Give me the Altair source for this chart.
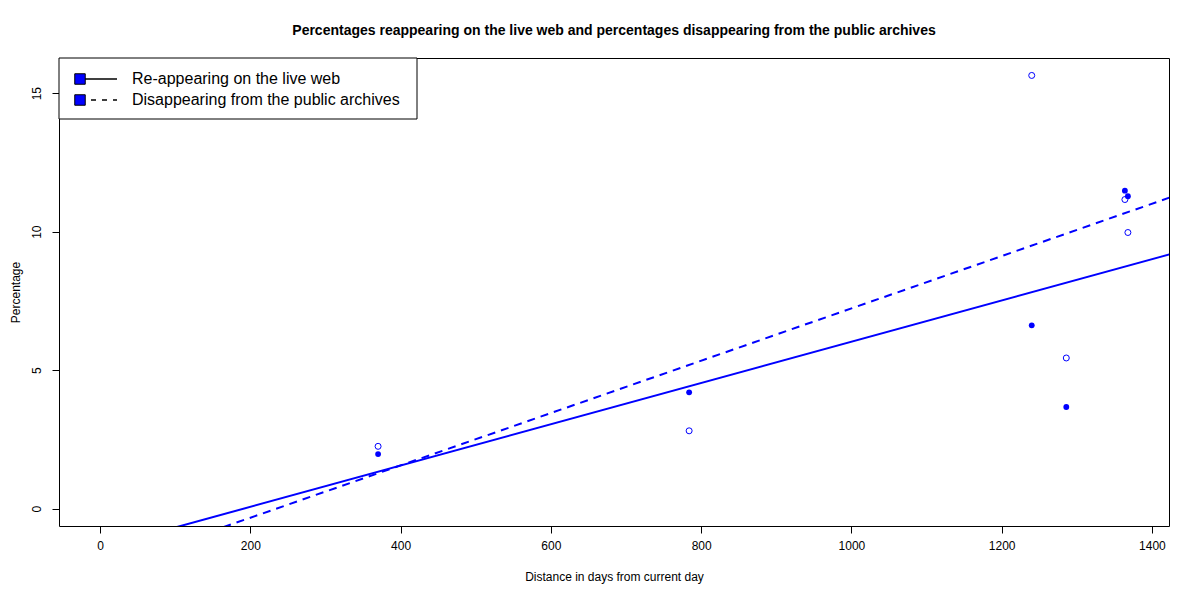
import altair as alt
import pandas as pd

# ---- data ----
days = [370, 784, 1240, 1286, 1364, 1368]
reappearing = [1.97, 4.20, 6.62, 3.67, 11.48, 11.28]
disappearing = [2.25, 2.81, 15.64, 5.44, 11.16, 9.97]
series_names = ["Re-appearing on the live web", "Disappearing from the public archives"]
x_ticks = [0, 200, 400, 600, 800, 1000, 1200, 1400]
y_ticks = [0, 5, 10, 15]

df = pd.DataFrame({
    "day": days * 2,
    "pct": reappearing + disappearing,
    "series": [series_names[0]] * len(days) + [series_names[1]] * len(days),
})
leg = pd.DataFrame({"series": series_names, "row": [0, 1]})

FONT = "Liberation Sans"
BLUE = "#0000FF"
XDOM = [-54.7, 1422.7]
YDOM = [-0.626, 16.27]
W, H = 1110, 468

xs = alt.X("day:Q", scale=alt.Scale(domain=XDOM, nice=False, zero=False),
           axis=alt.Axis(values=x_ticks, title="Distance in days from current day",
                         format="d", labelPadding=7, titlePadding=20, grid=False))
ys = alt.Y("pct:Q", scale=alt.Scale(domain=YDOM, nice=False, zero=False),
           axis=alt.Axis(values=y_ticks, title="Percentage", labelAngle=270,
                         labelAlign="center", labelBaseline="bottom",
                         labelPadding=9, titlePadding=8, grid=False))

base = alt.Chart(df)

filled_pts = base.transform_filter(alt.datum.series == series_names[0]).mark_point(
    filled=True, shape="circle", size=34, color=BLUE, opacity=1
).encode(x=xs, y=ys)

open_pts = base.transform_filter(alt.datum.series == series_names[1]).mark_point(
    filled=False, shape="circle", size=36, color=BLUE, strokeWidth=1, opacity=1
).encode(x=xs, y=ys)

line_re = base.transform_filter(alt.datum.series == series_names[0]).transform_regression(
    "day", "pct", extent=[-100, 1500]
).mark_line(color=BLUE, strokeWidth=2, clip=True).encode(x=xs, y=ys)

line_dis = base.transform_filter(alt.datum.series == series_names[1]).transform_regression(
    "day", "pct", extent=[-100, 1500]
).mark_line(color=BLUE, strokeWidth=2, strokeDash=[8, 6], clip=True).encode(x=xs, y=ys)

# ---- legend (drawn in the top-left corner of the plot area) ----
lbase = alt.Chart(leg)
row0 = lbase.transform_filter(alt.datum.row == 0)
row1 = lbase.transform_filter(alt.datum.row == 1)
Y0, Y1 = 21, 42

leg_box = row0.mark_rect(
    fill="white", stroke="black", strokeWidth=1
).encode(x=alt.value(0), x2=alt.value(358), y=alt.value(0), y2=alt.value(61))

leg_line0 = row0.mark_rule(color="black", strokeWidth=1.3).encode(
    x=alt.value(21), x2=alt.value(58), y=alt.value(Y0))
leg_line1 = row1.mark_rule(color="black", strokeWidth=1.3, strokeDash=[5, 6]).encode(
    x=alt.value(21), x2=alt.value(58), y=alt.value(Y1))
leg_sq0 = row0.mark_square(size=110, fill=BLUE, stroke="black", strokeWidth=1, opacity=1).encode(
    x=alt.value(21), y=alt.value(Y0))
leg_sq1 = row1.mark_square(size=110, fill=BLUE, stroke="black", strokeWidth=1, opacity=1).encode(
    x=alt.value(21), y=alt.value(Y1))
leg_txt0 = row0.mark_text(align="left", baseline="middle", font=FONT, fontSize=16, color="black").encode(
    x=alt.value(73), y=alt.value(Y0), text="series:N")
leg_txt1 = row1.mark_text(align="left", baseline="middle", font=FONT, fontSize=16, color="black").encode(
    x=alt.value(73), y=alt.value(Y1), text="series:N")

chart = alt.layer(
    line_re, line_dis, filled_pts, open_pts,
    leg_box, leg_line0, leg_line1, leg_sq0, leg_sq1, leg_txt0, leg_txt1
).properties(
    width=W, height=H,
    title=alt.TitleParams(
        "Percentages reappearing on the live web and percentages disappearing from the public archives",
        font=FONT, fontSize=14, fontWeight="bold", anchor="middle", offset=20, color="black"
    ),
    autosize=alt.AutoSizeParams(type="none"),
    padding={"left": 51, "top": 50, "right": 22, "bottom": 60},
    background="white",
).configure_view(
    stroke="black", strokeWidth=1
).configure_axis(
    grid=False, domain=False, tickColor="black", tickSize=7, tickWidth=1,
    labelFont=FONT, labelFontSize=12, labelColor="black",
    titleFont=FONT, titleFontSize=12, titleFontWeight="normal", titleColor="black"
)

chart.save("out.html", embed_options={"renderer": "svg", "actions": False})
